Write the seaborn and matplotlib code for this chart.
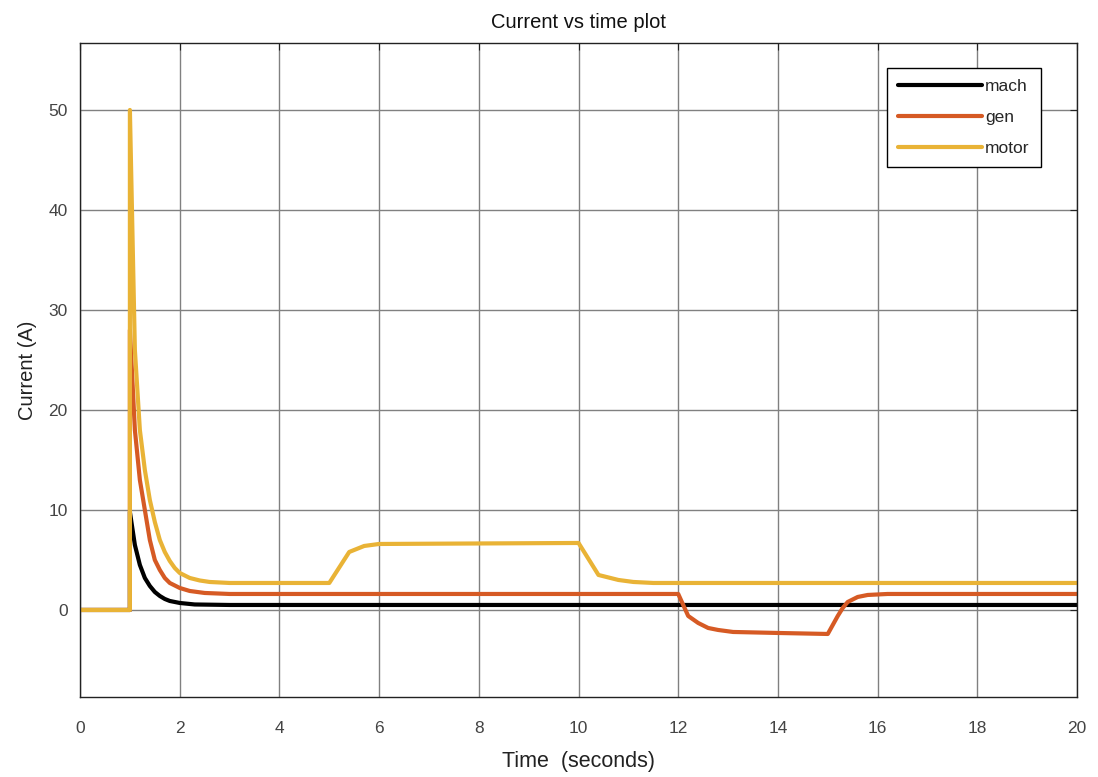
import pandas as pd
import seaborn as sns
import matplotlib.pyplot as plt

# Values (time in s, current in A)
mach_t = [0, 1.0, 1.0, 1.1, 1.2, 1.3, 1.4, 1.5, 1.6, 1.7, 1.8, 2.0, 2.3, 3.0, 20]
mach_i = [0, 0, 9.8, 6.5, 4.5, 3.2, 2.4, 1.8, 1.4, 1.1, 0.9, 0.7, 0.55, 0.5, 0.5]

gen_t = [0, 1.0, 1.0, 1.1, 1.2, 1.3, 1.4, 1.5, 1.6, 1.7, 1.8, 2.0, 2.2, 2.5, 3.0,
         12.0, 12.2, 12.4, 12.6, 12.8, 13.1, 14.0, 15.0, 15.2, 15.3, 15.4,
         15.6, 15.8, 16.2, 20]
gen_i = [0, 0, 28, 18, 13, 10, 7, 5, 4, 3.2, 2.7, 2.2, 1.9, 1.7, 1.6,
         1.6, -0.6, -1.3, -1.8, -2.0, -2.2, -2.3, -2.4, -0.6, 0.2, 0.8,
         1.3, 1.5, 1.6, 1.6]

motor_t = [0, 1.0, 1.0, 1.1, 1.2, 1.3, 1.4, 1.5, 1.6, 1.7, 1.8, 1.9, 2.0, 2.2,
           2.4, 2.6, 3.0, 5.0, 5.4, 5.7, 6.0, 10.0, 10.4, 10.8, 11.1, 11.5, 20]
motor_i = [0, 0, 50, 26, 18, 14, 11, 8.8, 7.0, 5.8, 4.9, 4.2, 3.7, 3.2,
           2.95, 2.8, 2.7, 2.7, 5.8, 6.4, 6.6, 6.7, 3.5, 3.0, 2.8, 2.7, 2.7]

x_ticks = [0, 2, 4, 6, 8, 10, 12, 14, 16, 18, 20]
y_ticks = [0, 10, 20, 30, 40, 50]

series = [
    ("mach", mach_t, mach_i, "#000000"),
    ("gen", gen_t, gen_i, "#D65A24"),
    ("motor", motor_t, motor_i, "#E9B336"),
]

sns.set_style("white")
plt.rcParams["font.family"] = ["Liberation Sans", "DejaVu Sans"]

fig, ax = plt.subplots(figsize=(10.98, 7.77), dpi=100)
fig.subplots_adjust(left=0.0729, right=0.9809, bottom=0.103, top=0.9447)

for name, t, i, color in series:
    df = pd.DataFrame({"t": t, "i": i})
    sns.lineplot(data=df, x="t", y="i", estimator=None, sort=False,
                 color=color, linewidth=3, label=name, ax=ax)

ax.set_xlim(0, 20)
ax.set_ylim(-8.7, 56.7)
ax.set_xticks(x_ticks)
ax.set_yticks(y_ticks)

ax.grid(True, color="#808080", linewidth=1)
ax.set_axisbelow(True)
for side in ["top", "right", "bottom", "left"]:
    ax.spines[side].set_visible(True)
    ax.spines[side].set_color("#222222")
    ax.spines[side].set_linewidth(1)

ax.tick_params(axis="both", direction="in", length=5, width=0.8,
               top=True, right=True, labelsize=12.5, labelcolor="#444444",
               color="#222222")
ax.tick_params(axis="x", pad=17)
ax.tick_params(axis="y", pad=9)

ax.set_title("Current vs time plot", fontsize=14.5, pad=11, color="#111111")
ax.set_xlabel("Time  (seconds)", fontsize=15.5, labelpad=11, color="#222222")
ax.set_ylabel("Current (A)", fontsize=14.5, labelpad=8, color="#222222")

leg = ax.legend(loc="upper right", bbox_to_anchor=(0.9725, 0.975),
                fontsize=12.5, handlelength=4.8, handletextpad=0.2,
                labelspacing=0.9, fancybox=False, framealpha=1,
                borderpad=0.65)
leg.get_frame().set_edgecolor("#000000")
leg.get_frame().set_linewidth(1)

plt.savefig("out.png", dpi=100)
plt.close()
